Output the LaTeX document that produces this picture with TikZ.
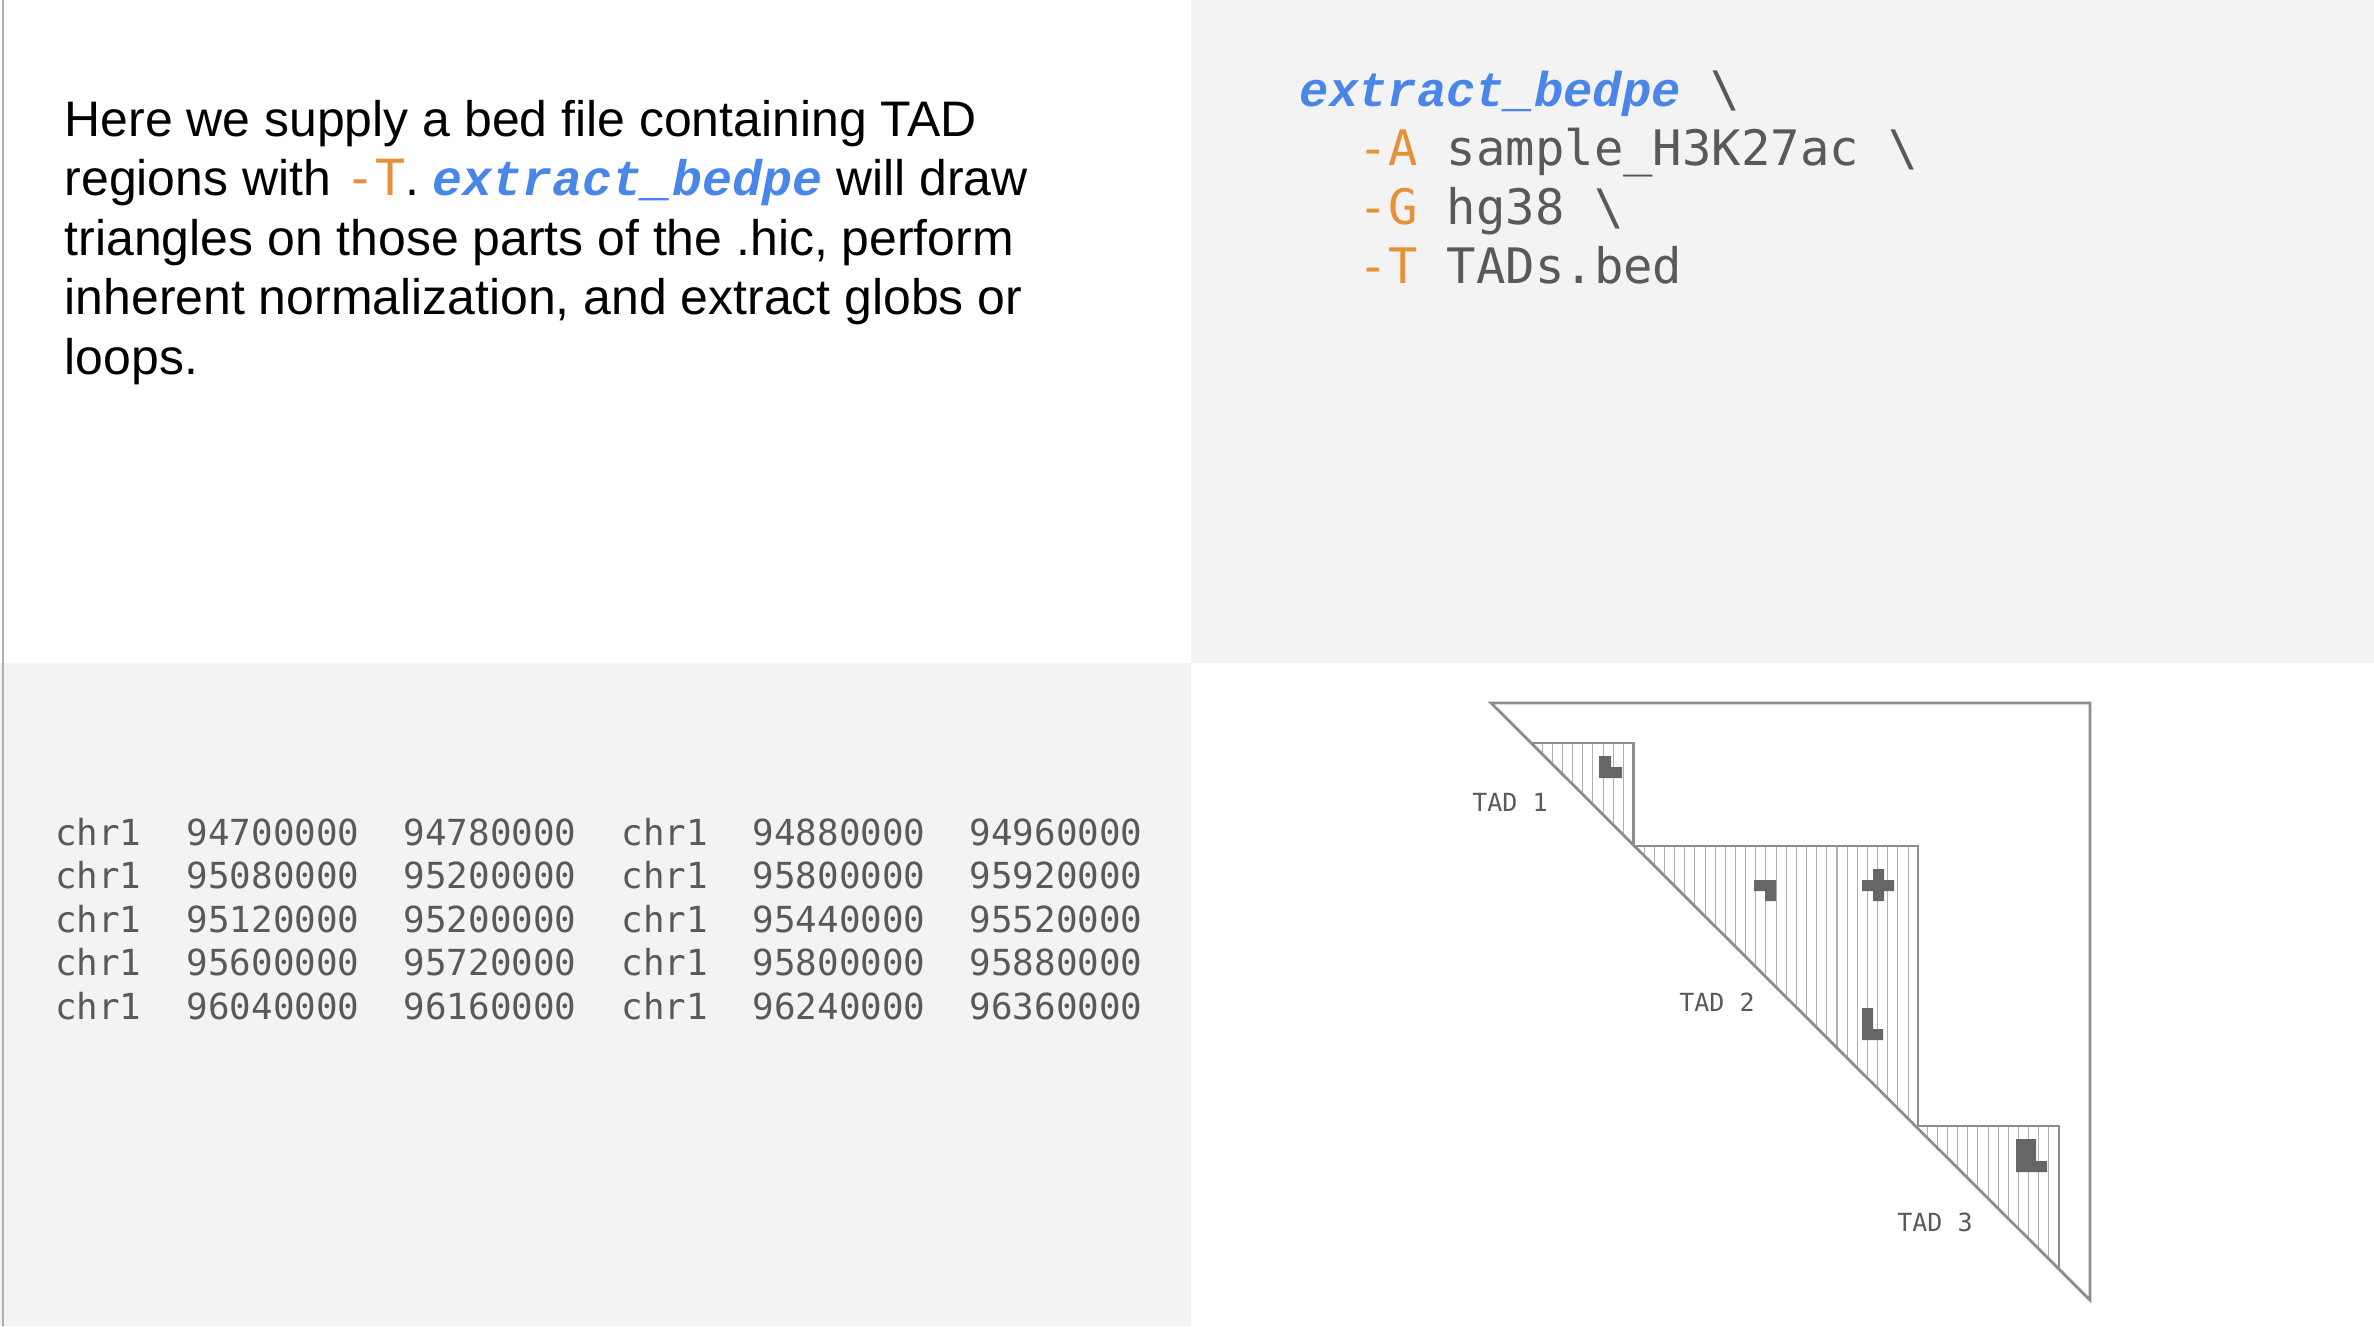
\documentclass[tikz,border=0pt]{standalone}
\usepackage{fontspec}
\setmainfont{Liberation Sans}
\setmonofont{DejaVu Sans Mono}
\newfontfamily\cmdfont{Liberation Mono}
\usetikzlibrary{positioning}
\definecolor{panelgray}{HTML}{F3F3F3}
\definecolor{codegray}{HTML}{595959}
\definecolor{optorange}{HTML}{E69138}
\definecolor{cmdblue}{HTML}{4A86E8}
\definecolor{gridgray}{HTML}{B0B0B0}
\definecolor{blobgray}{HTML}{666666}
\newcommand{\cmdname}{{\cmdfont\bfseries\itshape\color{cmdblue}extract\_bedpe}}
\tikzset{
  codeline/.style={anchor=base west, inner sep=0pt, font=\ttfamily\fontsize{13.9}{16}\selectfont, text=codegray},
  bodyline/.style={anchor=base west, inner sep=0pt, font=\fontsize{14.2}{17}\selectfont},
  tabline/.style={anchor=base west, inner sep=0pt, font=\ttfamily\fontsize{10.2}{12}\selectfont, text=codegray},
  tadlabel/.style={inner sep=0pt, font=\ttfamily\fontsize{7.1}{9}\selectfont, text=codegray},
  blob/.style={fill=blobgray}
}
\begin{document}
\begin{tikzpicture}[x=0.01cm, y=-0.01cm]
  \useasboundingbox (0,0) rectangle (2374,1326);
  % panels
  \fill[panelgray] (1191,0) rectangle (2374,663);
  \fill[panelgray] (0,663) rectangle (1191,1326);
  \draw[gridgray, line width=0.6pt] (3,0) -- (3,1326);
  % description
  \node[bodyline] (d1) at (64,136) {Here we supply a bed file containing TAD};
  \node[bodyline] (d2) at (64,195.5) {regions with {\ttfamily\color{optorange}-T}. \cmdname{} will draw};
  \node[bodyline] (d3) at (64,255) {triangles on those parts of the .hic, perform};
  \node[bodyline] (d4) at (64,314.5) {inherent normalization, and extract globs or};
  \node[bodyline] (d5) at (64,374) {loops.};
  % command
  \node[codeline] (c1) at (1299,106) {\cmdname{} \textbackslash};
  \node[codeline] (c2) at (1358,165) {{\color{optorange}-A} sample\_H3K27ac \textbackslash};
  \node[codeline] (c3) at (1358,224) {{\color{optorange}-G} hg38 \textbackslash};
  \node[codeline] (c4) at (1358,283) {{\color{optorange}-T} TADs.bed};
  % bedpe table
  \foreach \r/\a/\b/\c/\d [count=\i] in {
      94700000/94780000/94880000/94960000,
      95080000/95200000/95800000/95920000,
      95120000/95200000/95440000/95520000,
      95600000/95720000/95800000/95880000,
      96040000/96160000/96240000/96360000}{
    \node[tabline] (t\i a) at (54.5,{845+(\i-1)*43.5}) {chr1};
    \node[tabline] (t\i b) at (186,{845+(\i-1)*43.5}) {\r};
    \node[tabline] (t\i c) at (403,{845+(\i-1)*43.5}) {\a};
    \node[tabline] (t\i d) at (621,{845+(\i-1)*43.5}) {chr1};
    \node[tabline] (t\i e) at (752,{845+(\i-1)*43.5}) {\b};
    \node[tabline] (t\i f) at (969,{845+(\i-1)*43.5}) {\c};
  }
  % TAD triangles with grids
  \foreach \ox/\oy/\n in {1532/743/10, 1634/846/28, 1917/1126/14}{
    \begin{scope}[shift={(\ox,\oy)}]
      \clip (0,0) -- ({\n*10.15},0) -- ({\n*10.15},{\n*10.15}) -- cycle;
      \draw[gridgray, line width=0.3pt, step=10.15] (0,0) grid ({\n*10.15},{\n*10.15});
    \end{scope}
    \draw[gridgray!80!black, line width=0.6pt] (\ox,\oy) -- ({\ox+\n*10.15},\oy) -- ({\ox+\n*10.15},{\oy+\n*10.15});
  }
  % globs and loops
  \fill[blob] (1599,756) rectangle (1611,778) (1611,767) rectangle (1622,778);
  \fill[blob] (1754,880) rectangle (1776,891) (1765,891) rectangle (1776,901);
  \fill[blob] (1862,880) rectangle (1894,891) (1873,869) rectangle (1884,901);
  \fill[blob] (1862,1008) rectangle (1873,1040) (1873,1029) rectangle (1883,1040);
  \fill[blob] (2016,1139) rectangle (2036,1172) (2036,1161) rectangle (2047,1172);
  % outer triangle
  \draw[gridgray!80!black, line width=0.8pt] (1491,703) -- (2090,703) -- (2090,1300) -- cycle;
  \node[tadlabel] (tad1) at (1510,802) {TAD 1};
  \node[tadlabel] (tad2) at (1717,1002) {TAD 2};
  \node[tadlabel] (tad3) at (1935,1222) {TAD 3};
\end{tikzpicture}
\end{document}
